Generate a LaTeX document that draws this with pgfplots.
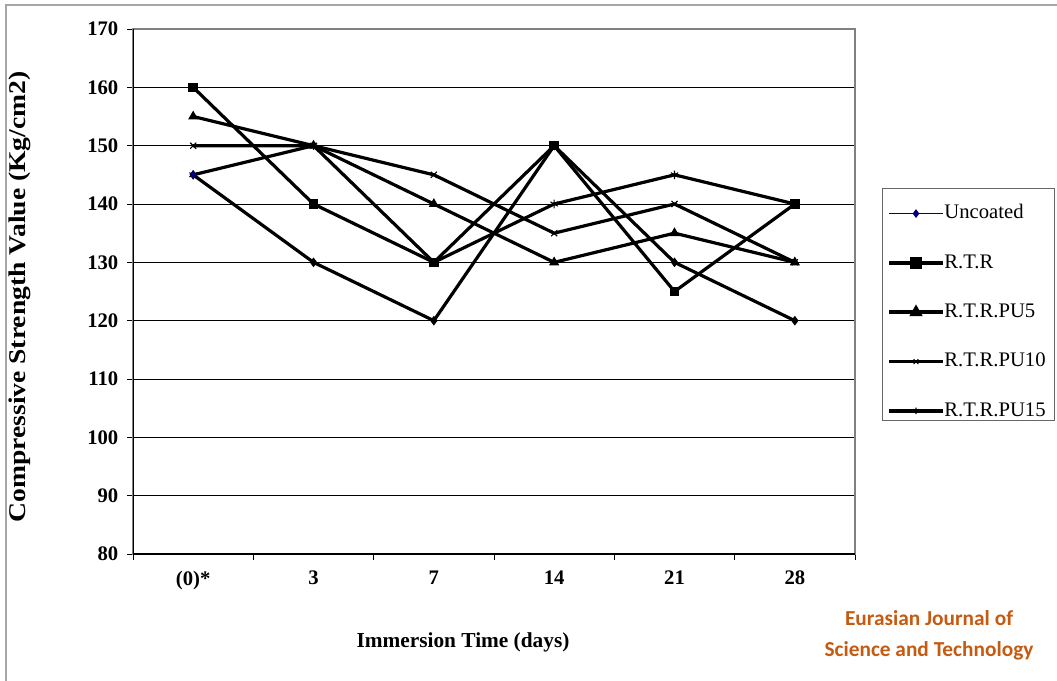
\documentclass[border=0pt]{standalone}
\usepackage{fontspec}
\usepackage{pgfplots}
\pgfplotsset{compat=1.18}
\setmainfont{Liberation Serif}
\newfontfamily\carlito{Carlito}
\definecolor{navy}{HTML}{000080}
\definecolor{ejst}{HTML}{C55A11}

% values, x index 0..5 = (0)*, 3, 7, 14, 21, 28
\pgfplotstableread{
x  unc  rtr  pu5  pu10  pu15
0  145  160  155  150   145
1  130  140  150  150   150
2  120  130  140  145   130
3  150  150  130  135   140
4  130  125  135  140   145
5  120  140  130  130   140
}\strength

\begin{document}
\begin{tikzpicture}
\useasboundingbox (0,0) rectangle (792.75pt,-510.75pt);
% outer chart frame
\draw[gray!70, line width=0.8pt] (4.5pt,-520pt) -- (4.5pt,-3.75pt) -- (800pt,-3.75pt);

\begin{axis}[
  at={(99.75pt,-415.5pt)}, anchor=south west,
  scale only axis,
  width=541.5pt, height=393.75pt,
  xmin=-0.5, xmax=5.5,
  ymin=80, ymax=170,
  axis line style={draw=gray, line width=1pt},
  xtick={-0.5,0.5,...,5.5},
  x tick label as interval,
  xticklabels={(0)*,3,7,14,21,28},
  ytick={80,90,...,170},
  xtick pos=bottom, ytick pos=left,
  tick align=outside,
  major tick length=4.5pt,
  major tick style={black, line width=0.6pt},
  ymajorgrids=true,
  major grid style={black, line width=0.6pt},
  /pgf/number format/assume math mode=true,
  ticklabel style={font=\bfseries\fontsize{15.5}{18}\selectfont},
  yticklabel style={xshift=-3pt},
  xticklabel style={yshift=-4.5pt},
  legend style={
    at={(rel axis cs:1.0374,0.682)}, anchor=north west,
    draw=none, fill=none,
    inner xsep=4pt, inner ysep=6pt,
    row sep=23pt,
    nodes={inner sep=0pt, text height=11pt, text depth=3pt,
      font=\fontsize{15.5}{18}\selectfont},
    /tikz/every even column/.append style={column sep=4pt},
  },
  legend cell align=left,
  legend image code/.code={
    \draw[#1] (0pt,0pt) -- (40pt,0pt);
    \draw[#1, mark repeat=2, mark phase=2] plot coordinates {(0pt,0pt) (20pt,0pt) (40pt,0pt)};
  },
  every axis plot/.append style={black, line width=2.4pt, mark options={solid, line width=0.8pt}},
]
\addplot[forget plot, mark=diamond*, mark size=3pt] table[y=unc] {\strength};
\addplot[forget plot, mark=square*, mark size=3.2pt] table[y=rtr] {\strength};
\addplot[forget plot, mark=triangle*, mark size=3.6pt] table[y=pu5] {\strength};
\addplot[forget plot, mark=x, mark size=3.2pt] table[y=pu10] {\strength};
\addplot[forget plot, mark=asterisk, mark size=3.2pt] table[y=pu15] {\strength};

% marker of the uncoated series at day 0 shows blue
\addplot[forget plot, only marks, navy, mark=diamond*, mark size=2.5pt] coordinates {(0,145)};

% black left and bottom axis lines
\draw[black, line width=1pt] (rel axis cs:0,1) -- (rel axis cs:0,0) -- (rel axis cs:1,0);

\addlegendimage{navy, line width=1pt, mark=diamond*, mark size=2.5pt, mark options={solid}}
\addlegendentry{Uncoated}
\addlegendimage{black, line width=2.6pt, mark=square*, mark size=3.2pt, mark options={solid}}
\addlegendentry{R.T.R}
\addlegendimage{black, line width=2.6pt, mark=triangle*, mark size=3.2pt, mark options={solid}}
\addlegendentry{R.T.R.PU5}
\addlegendimage{black, line width=2.6pt, mark=x, mark size=2.5pt, mark options={solid, line width=0.8pt}}
\addlegendentry{R.T.R.PU10}
\addlegendimage{black, line width=2.6pt, mark=asterisk, mark size=2.5pt, mark options={solid, line width=0.8pt}}
\addlegendentry{R.T.R.PU15}
\end{axis}

% legend frame
\draw[gray!80!black, line width=0.6pt] (661.5pt,-141pt) rectangle (790.5pt,-315pt);

\node[rotate=90, font=\bfseries\fontsize{18}{21}\selectfont] at (15pt,-222.75pt)
  {\scalebox{1.15}[1]{Compressive Strength Value (Kg/cm2)}};
\node[font=\bfseries\fontsize{16}{19}\selectfont] at (347.25pt,-481.5pt) {Immersion Time (days)};
\node[anchor=base, text=ejst, font=\carlito\bfseries\fontsize{16}{19}\selectfont] at (696.75pt,-468.75pt) {Eurasian Journal of};
\node[anchor=base, text=ejst, font=\carlito\bfseries\fontsize{16}{19}\selectfont] at (696.75pt,-492pt) {Science and Technology};
\end{tikzpicture}
\end{document}
